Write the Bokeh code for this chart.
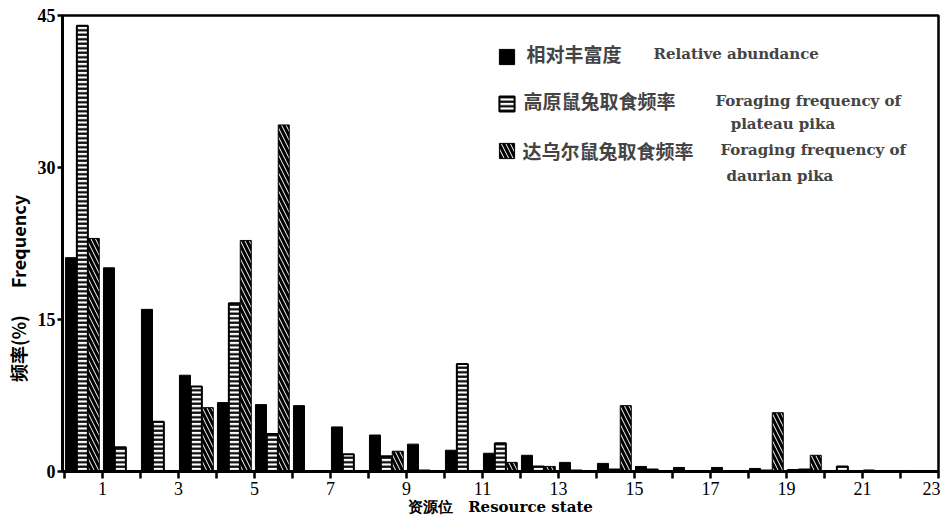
from bokeh.plotting import figure
from bokeh.models import Range1d, FixedTicker, Legend, LegendItem, Label, ColumnDataSource
from bokeh.embed import file_html
from bokeh.resources import INLINE

# ---- data ----
states = list(range(1, 24))
relative_abundance = [21.1, 20.1, 16.0, 9.5, 6.8, 6.6, 6.5, 4.4, 3.6, 2.7, 2.1, 1.8,
                      1.6, 0.9, 0.8, 0.5, 0.4, 0.4, 0.3, 0.2, 0.1, 0.15, 0.1]
plateau_pika = [44.0, 2.4, 4.9, 8.4, 16.6, 3.7, 0.0, 1.7, 1.5, 0.1, 10.6, 2.8,
                0.5, 0.1, 0.2, 0.2, 0.0, 0.0, 0.1, 0.2, 0.5, 0.0, 0.0]
daurian_pika = [23.0, 0.0, 0.0, 6.3, 22.8, 34.2, 0.0, 0.0, 2.0, 0.0, 0.1, 0.9,
                0.5, 0.0, 6.5, 0.0, 0.0, 0.0, 5.8, 1.6, 0.0, 0.0, 0.0]
x_ticks = list(range(0, 24))
x_tick_labels = {t: (str(t) if t % 2 == 1 else "") for t in x_ticks}
y_ticks = [0, 15, 30, 45]
series_cn = ["相对丰富度", "高原鼠兔取食频率", "达乌尔鼠兔取食频率"]
series_en = [["Relative abundance"], ["Foraging frequency of", "plateau pika"],
             ["Foraging frequency of", "daurian pika"]]

# ---- layout ----
BAR_W = 0.29
OFFS = [0.17, 0.47, 0.77]
CJK = "Noto Sans CJK SC"
SERIF_EN = "DejaVu Serif"

p = figure(width=940, height=518, output_backend="svg", toolbar_location=None,
           x_range=Range1d(-0.053, 23.0), y_range=Range1d(0, 45),
           min_border_left=62, min_border_top=15, min_border_right=2, min_border_bottom=47)
p.xgrid.visible = False
p.ygrid.visible = False
p.outline_line_color = "black"
p.outline_line_width = 2.5
p.background_fill_color = "white"

src = ColumnDataSource(dict(
    x1=[s - 1 + OFFS[0] for s in states],
    x2=[s - 1 + OFFS[1] for s in states],
    x3=[s - 1 + OFFS[2] for s in states],
    a=relative_abundance, b=plateau_pika, c=daurian_pika))

r1 = p.vbar(x="x1", top="a", width=BAR_W, source=src, fill_color="black",
            line_color="black", line_width=1)
r2 = p.vbar(x="x2", top="b", width=BAR_W, source=src, fill_color="white",
            line_color="black", line_width=2, hatch_pattern="horizontal_line",
            hatch_color="black", hatch_scale=4.5, hatch_weight=2.2)
r3 = p.vbar(x="x3", top="c", width=BAR_W, source=src, fill_color="black",
            line_color="black", line_width=1, hatch_pattern="left_diagonal_line",
            hatch_color="white", hatch_scale=9, hatch_weight=1)

# axes
xa = p.xaxis[0]
xa.ticker = FixedTicker(ticks=x_ticks)
xa.major_label_overrides = x_tick_labels
xa.minor_tick_line_color = None
xa.major_tick_in = 0
xa.major_tick_out = 7
xa.major_tick_line_width = 2.5
xa.axis_line_width = 3
xa.major_label_standoff = 3
xa.major_label_text_font = "Liberation Serif"
xa.major_label_text_font_size = "18px"
xa.major_label_text_color = "black"
xa.axis_label = "资源位\u2003Resource state"
xa.axis_label_text_font = SERIF_EN
xa.axis_label_text_font_style = "bold"
xa.axis_label_text_font_size = "15px"
xa.axis_label_text_color = "black"
xa.axis_label_standoff = 0

ya = p.yaxis[0]
ya.ticker = FixedTicker(ticks=y_ticks)
ya.minor_tick_line_color = None
ya.major_tick_in = 0
ya.major_tick_out = 5
ya.major_tick_line_width = 2.5
ya.axis_line_width = 3
ya.major_label_standoff = 2
ya.major_label_text_font = "Liberation Serif"
ya.major_label_text_font_style = "bold"
ya.major_label_text_font_size = "18px"
ya.major_label_text_color = "black"
ya.axis_label = "频率(%)\u2003\u2002Frequency" + "\u2003" * 5
ya.axis_label_text_font = CJK
ya.axis_label_text_font_style = "bold"
ya.axis_label_text_font_size = "18px"
ya.axis_label_text_color = "black"
ya.axis_label_standoff = 4

# legend swatches
legend = Legend(items=[LegendItem(label="", renderers=[r1]),
                       LegendItem(label="", renderers=[r2]),
                       LegendItem(label="", renderers=[r3])],
                location=(435, 311), orientation="vertical",
                glyph_width=19, glyph_height=19, label_height=19, label_width=0,
                spacing=28, padding=0, margin=0, label_standoff=0,
                border_line_color=None, background_fill_alpha=0)
p.add_layout(legend, "center")

# legend texts (positions in data units inside the frame)
cn_pos = [(12.16, 41.25), (12.08, 36.6), (12.05, 31.68)]
en_pos = [[(15.5, 41.25)], [(17.13, 36.6), (17.53, 34.34)], [(17.26, 31.68), (17.42, 29.2)]]
for t, (x, y) in zip(series_cn, cn_pos):
    p.add_layout(Label(x=x, y=y, text=t, text_font=CJK, text_font_style="bold",
                       text_font_size="19px", text_align="left", text_baseline="middle"))
for lines, poss in zip(series_en, en_pos):
    for t, (x, y) in zip(lines, poss):
        p.add_layout(Label(x=x, y=y, text=t, text_font=SERIF_EN, text_font_style="bold",
                           text_font_size="15px", text_align="left", text_baseline="middle"))

open("out.html", "w").write(file_html(p, INLINE))
